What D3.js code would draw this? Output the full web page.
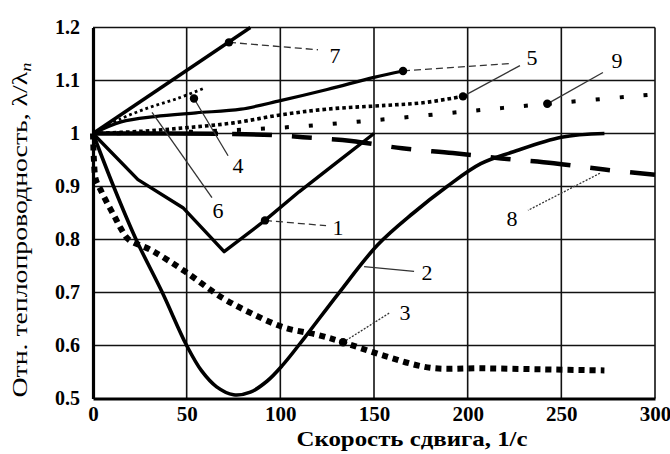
<!DOCTYPE html>
<html><head><meta charset="utf-8">
<script src="https://cdn.jsdelivr.net/npm/d3@7"></script>
<style>body{margin:0;background:#fff}</style>
</head><body><svg id="c" width="670" height="454"></svg>
<script>
// ---- data ----
const xTicks = [0, 50, 100, 150, 200, 250, 300];
const yTicks = [0.5, 0.6, 0.7, 0.8, 0.9, 1.0, 1.1, 1.2];
const yTickLabels = ["0.5", "0.6", "0.7", "0.8", "0.9", "1", "1.1", "1.2"];
const xTitle = "Скорость сдвига, 1/с";
const yTitle = "Отн. теплопроводность, λ/λ";
const yTitleSub = "п";

// curve 1
const c1x = [0, 24, 48, 70, 91.8, 110, 130, 150];
const c1y = [1.0, 0.913, 0.86, 0.777, 0.836, 0.89, 0.945, 1.0];
// curve 2
const c2x = [0, 11, 23, 37, 50, 58, 66, 75, 84, 93, 101, 113, 131, 152, 171, 189, 207, 224, 250, 273];
const c2y = [1.0, 0.9, 0.8, 0.7, 0.6, 0.552, 0.522, 0.507, 0.512, 0.533, 0.562, 0.615, 0.698, 0.79, 0.85, 0.9, 0.943, 0.965, 0.993, 1.0];
// curve 3
const c3x = [0, 0.5, 1.5, 4, 8, 12, 15, 19, 31, 49, 69, 85, 102, 120, 133.5, 156, 180, 207, 240, 273];
const c3y = [1.0, 0.95, 0.913, 0.894, 0.866, 0.84, 0.82, 0.8, 0.78, 0.74, 0.69, 0.66, 0.634, 0.62, 0.606, 0.58, 0.558, 0.557, 0.555, 0.553];
// curve 4
const c4x = [0, 15, 30, 45, 59];
const c4y = [1.0, 1.028, 1.049, 1.066, 1.085];
// curve 5 (solid)
const c5ax = [0, 15, 33, 55, 79, 100, 125, 150, 165.5];
const c5ay = [1.0, 1.022, 1.032, 1.039, 1.046, 1.062, 1.083, 1.106, 1.118];
// curve 5 (dotted)
const c5bx = [0, 25, 50, 75, 100, 125, 156, 176, 197.5];
const c5by = [1.0, 1.004, 1.011, 1.02, 1.035, 1.046, 1.053, 1.058, 1.07];
// curve 7
const c7x = [0, 84];
const c7y = [1.0, 1.2];
// curve 8
const c8x = [0, 75, 96, 112, 138, 165, 192, 218, 246, 273, 300];
const c8y = [1.0, 0.999, 0.997, 0.993, 0.986, 0.972, 0.963, 0.953, 0.944, 0.932, 0.922];
// curve 9
const c9x = [0, 50, 100, 150, 200, 242.5, 300];
const c9y = [1.0, 1.003, 1.011, 1.025, 1.042, 1.056, 1.074];

// annotations: label, label position, leader start/end
const annLabels = ["7", "1", "4", "6", "5", "5", "9", "8", "2", "3"];
const annLabelX = [129.2, 130.8, 77.4, 66.7, 234.3, 234.3, 279.7, 223.7, 178.3, 166.5];
const annLabelY = [1.147, 0.823, 0.940, 0.855, 1.143, 1.143, 1.138, 0.840, 0.738, 0.662];
const annFromX = [72.6, 91.8, 53.9, 31.5, 165.5, 197.5, 242.5, 270.6, 144.7, 133.5];
const annFromY = [1.172, 0.836, 1.066, 1.040, 1.118, 1.07, 1.056, 0.925, 0.749, 0.606];
const annToX = [120.1, 124.4, 72.1, 63.5, 222.6, 227.9, 272.2, 232.2, 171.4, 158.5];
const annToY = [1.158, 0.826, 0.958, 0.879, 1.132, 1.128, 1.115, 0.855, 0.740, 0.662];
const annLeader = ["dash", "dash", "solid", "solid", "dash", "solid", "solid", "dot", "solid", "dot"];
const annMarker = [true, true, true, false, true, true, true, false, false, true];

// ---- drawing ----
const svg = d3.select("#c");
const x = d3.scaleLinear().domain([0, 300]).range([93, 655]);
const y = d3.scaleLinear().domain([0.5, 1.2]).range([398.5, 27.5]);
const font = "'Liberation Serif', 'Times New Roman', serif";

// grid
svg.append("g").selectAll("line").data(xTicks.slice(1)).join("line")
  .attr("x1", d => x(d)).attr("x2", d => x(d)).attr("y1", y(1.2)).attr("y2", y(0.5))
  .attr("stroke", "#111").attr("stroke-width", 1.6);
svg.append("g").selectAll("line").data(yTicks.slice(1)).join("line")
  .attr("x1", x(0)).attr("x2", x(300)).attr("y1", d => y(d)).attr("y2", d => y(d))
  .attr("stroke", "#111").attr("stroke-width", 1.6);

function zip(xs, ys) { return xs.map((v, i) => [v, ys[i]]); }
const series = [
  {pts: zip(c2x, c2y), curve: d3.curveCatmullRom, w: 3.6, dash: null},
  {pts: zip(c1x, c1y), curve: d3.curveLinear, w: 3.4, dash: null},
  {pts: zip(c3x, c3y), curve: d3.curveCatmullRom, w: 6, dash: "6,5"},
  {pts: zip(c7x, c7y), curve: d3.curveLinear, w: 3.4, dash: null},
  {pts: zip(c4x, c4y), curve: d3.curveCatmullRom, w: 2.8, dash: "2.8,3"},
  {pts: zip(c5ax, c5ay), curve: d3.curveCatmullRom, w: 3.2, dash: null},
  {pts: zip(c5bx, c5by), curve: d3.curveCatmullRom, w: 3.6, dash: "3.6,3"},
  {pts: zip(c8x, c8y), curve: d3.curveCatmullRom, w: 4.5,
   dash: "125,14,40,20,20,20,40,20,20,20,40,20,20,20,40,20,20,20,40,20,20,20,40,20,20,20,40,20,20,20"},
  {pts: zip(c9x, c9y), curve: d3.curveCatmullRom, w: 4, dash: "4,20"}
];
series.forEach(s => {
  svg.append("path")
    .attr("d", d3.line().x(d => x(d[0])).y(d => y(d[1])).curve(s.curve)(s.pts))
    .attr("fill", "none").attr("stroke", "#000").attr("stroke-width", s.w)
    .attr("stroke-linejoin", "round")
    .attr("stroke-dasharray", s.dash);
});

// axes (thick left & bottom)
const xAxis = d3.axisBottom(x).tickValues(xTicks).tickSize(0).tickPadding(8);
const gx = svg.append("g").attr("transform", `translate(0,${y(0.5)})`).call(xAxis);
gx.select(".domain").attr("stroke", "#000").attr("stroke-width", 3.2);
gx.selectAll("text").attr("font-family", font).attr("font-size", 21).attr("font-weight", "bold").attr("fill", "#000");
const yAxis = d3.axisLeft(y).tickValues(yTicks).tickFormat((d, i) => yTickLabels[i]).tickSize(0).tickPadding(13);
const gy = svg.append("g").attr("transform", `translate(${x(0)},0)`).call(yAxis);
gy.select(".domain").attr("stroke", "#000").attr("stroke-width", 3.2);
gy.selectAll("text").attr("font-family", font).attr("font-size", 20).attr("font-weight", "bold").attr("fill", "#000");

// leaders
const dashMap = {dash: "7,4", solid: null, dot: "2,1.5"};
annLabels.forEach((t, i) => {
  svg.append("line")
    .attr("x1", x(annFromX[i])).attr("y1", y(annFromY[i]))
    .attr("x2", x(annToX[i])).attr("y2", y(annToY[i]))
    .attr("stroke", "#333").attr("stroke-width", 1.3)
    .attr("stroke-dasharray", dashMap[annLeader[i]]);
  if (annMarker[i]) {
    svg.append("circle").attr("cx", x(annFromX[i])).attr("cy", y(annFromY[i])).attr("r", 4.2).attr("fill", "#000");
  }
});
const drawn = new Set();
annLabels.forEach((t, i) => {
  const key = t + annLabelX[i];
  if (drawn.has(key)) return;
  drawn.add(key);
  svg.append("text").attr("x", x(annLabelX[i])).attr("y", y(annLabelY[i]))
    .attr("text-anchor", "middle").attr("dominant-baseline", "central")
    .attr("font-family", font).attr("font-size", 22).attr("fill", "#000").text(t);
});

// titles
svg.append("text").attr("x", 412).attr("y", 446).attr("text-anchor", "middle")
  .attr("font-family", font).attr("font-size", 21).attr("font-weight", "bold")
  .attr("textLength", 231).attr("lengthAdjust", "spacingAndGlyphs").text(xTitle);
const yt = svg.append("text").attr("transform", "translate(27,230) rotate(-90)").attr("text-anchor", "middle")
  .attr("font-family", font).attr("font-size", 21).attr("fill", "#000")
  .attr("textLength", 335).attr("lengthAdjust", "spacingAndGlyphs");
yt.append("tspan").text(yTitle);
yt.append("tspan").attr("font-size", 14).attr("font-style", "italic").attr("dy", 4).text(yTitleSub);
</script>
</body></html>
